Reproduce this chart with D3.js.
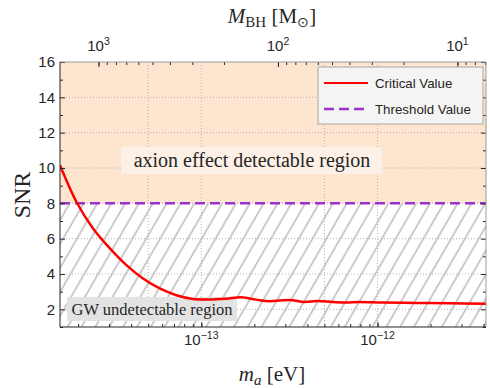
<!DOCTYPE html>
<html>
<head>
<meta charset="utf-8">
<script src="https://cdn.jsdelivr.net/npm/d3@7"></script>
<style>
  body { margin: 0; background: #fff; }
  text { fill: #262626; }
</style>
</head>
<body>
<script>
// Setup variables
const width = 490;
const height = 388;
const xStart = 60;
const xEnd = 486;
const yTop = 62;
const yBottom = 327;
const sans = "'Liberation Sans', Arial, sans-serif";
const serif = "'Liberation Serif', 'Times New Roman', serif";

// Data
const axionMass = [1.578e-14, 1.96e-14, 2.43e-14, 3.03e-14, 3.76e-14, 4.67e-14, 5.81e-14, 7.21e-14,
  8.96e-14, 1.114e-13, 1.386e-13, 1.683e-13, 2.047e-13, 2.436e-13, 3.16e-13, 3.85e-13, 4.56e-13,
  5.54e-13, 6.65e-13, 7.87e-13, 1.064e-12, 1.656e-12, 2.55e-12, 4.13e-12];
const snrCritical = [10.15, 8.06, 6.58, 5.45, 4.5, 3.74, 3.18, 2.8,
  2.59, 2.55, 2.6, 2.68, 2.55, 2.46, 2.53, 2.42, 2.47, 2.42,
  2.38, 2.41, 2.38, 2.36, 2.34, 2.32];
const snrThreshold = 8;
const massDomain = [1.578e-14, 4.13e-12];   // m_a [eV]
const mbhDomain = [1639, 6.93];             // M_BH [Msun]
const snrDomain = [1, 16];
const yMajor = [2, 4, 6, 8, 10, 12, 14, 16];
const yMinor = [1, 3, 5, 7, 9, 11, 13, 15];
const xMajor = [1e-13, 1e-12];
const xMajorLabels = ["\u221213", "\u221212"];
const topMajor = [1000, 100, 10];
const topMajorLabels = ["3", "2", "1"];
const xGrid = [5e-14, 1e-13, 5e-13, 1e-12];
const yGrid = [2, 4, 6, 8, 10, 12, 14];
const legendItems = ["Critical Value", "Threshold Value"];

// minor ticks for log axes (2..9 x 10^n inside the domain)
const logMinors = (lo, hi) => {
  const out = [];
  for (let e = Math.floor(Math.log10(lo)); e <= Math.ceil(Math.log10(hi)); e++) {
    for (let k = 1; k <= 9; k++) {
      const v = k * Math.pow(10, e);
      if (v >= lo && v <= hi) out.push(v);
    }
  }
  return out;
};

// Create the svg
const svg = d3.select("body")
  .append("svg")
  .attr("width", width)
  .attr("height", height);

// Scales
const x = d3.scaleLog().domain(massDomain).range([xStart, xEnd]);
const xTop = d3.scaleLog().domain(mbhDomain).range([xStart, xEnd]);
const y = d3.scaleLinear().domain(snrDomain).range([yBottom, yTop]);

// hatch pattern for the undetectable zone
const defs = svg.append("defs");
const pat = defs.append("pattern")
  .attr("id", "hatch")
  .attr("patternUnits", "userSpaceOnUse")
  .attr("width", 12)
  .attr("height", 12)
  .attr("patternTransform", "rotate(30)");
pat.append("line")
  .attr("x1", 6).attr("x2", 6)
  .attr("y1", 0).attr("y2", 12)
  .attr("stroke", "#8c8c8c")
  .attr("stroke-width", 0.9);

defs.append("clipPath").attr("id", "plotClip")
  .append("rect")
  .attr("x", xStart).attr("y", yTop)
  .attr("width", xEnd - xStart).attr("height", yBottom - yTop);

// Background regions
svg.append("rect")
  .attr("x", xStart).attr("y", y(snrDomain[1]))
  .attr("width", xEnd - xStart)
  .attr("height", y(snrThreshold) - y(snrDomain[1]))
  .attr("fill", "#fde5cf");
svg.append("rect")
  .attr("x", xStart).attr("y", y(snrThreshold))
  .attr("width", xEnd - xStart)
  .attr("height", y(snrDomain[0]) - y(snrThreshold))
  .attr("fill", "url(#hatch)");

// Grid lines (dotted)
const grid = svg.append("g").attr("stroke", "#b4b4b4").attr("stroke-dasharray", "1,2");
grid.selectAll(".gx").data(xGrid).join("line")
  .attr("x1", d => x(d)).attr("x2", d => x(d))
  .attr("y1", yTop).attr("y2", yBottom);
grid.selectAll(".gy").data(yGrid).join("line")
  .attr("x1", xStart).attr("x2", xEnd)
  .attr("y1", d => y(d)).attr("y2", d => y(d));

// Region text boxes
const axionBox = svg.append("g");
axionBox.append("rect")
  .attr("x", 121).attr("y", 147).attr("width", 261).attr("height", 27)
  .attr("fill", "#fdf1e7");
axionBox.append("text")
  .attr("x", 252).attr("y", 167)
  .attr("text-anchor", "middle")
  .style("font-family", serif)
  .style("font-size", "20px")
  .text("axion effect detectable region");

const gwBox = svg.append("g");
gwBox.append("rect")
  .attr("x", 67).attr("y", 297).attr("width", 170).attr("height", 24)
  .attr("fill", "#e3e3e3");
gwBox.append("text")
  .attr("x", 152).attr("y", 315)
  .attr("text-anchor", "middle")
  .style("font-family", serif)
  .style("font-size", "16.5px")
  .text("GW undetectable region");

// Threshold line
svg.append("line")
  .attr("x1", xStart).attr("x2", xEnd)
  .attr("y1", y(snrThreshold)).attr("y2", y(snrThreshold))
  .attr("stroke", "#9933cc")
  .attr("stroke-width", 2.5)
  .attr("stroke-dasharray", "10,5");

// Critical value curve
const line = d3.line()
  .x((d, i) => x(axionMass[i]))
  .y(d => y(d))
  .curve(d3.curveCatmullRom);
svg.append("path")
  .datum(snrCritical)
  .attr("clip-path", "url(#plotClip)")
  .attr("d", line)
  .attr("fill", "none")
  .attr("stroke", "#ff0000")
  .attr("stroke-width", 2.5);

// Axes (ticks pointing inward)
const tickStyle = (g, color) => {
  g.select(".domain").remove();
  g.selectAll(".tick line").attr("stroke", color);
};

svg.append("g")
  .attr("transform", `translate(0,${yBottom})`)
  .call(d3.axisBottom(x).tickValues(logMinors(...massDomain)).tickSize(-3).tickFormat(""))
  .call(g => tickStyle(g, "#262626"));
svg.append("g")
  .attr("transform", `translate(0,${yBottom})`)
  .call(d3.axisBottom(x).tickValues(xMajor).tickSize(-5).tickFormat(""))
  .call(g => tickStyle(g, "#262626"));

svg.append("g")
  .attr("transform", `translate(0,${yTop})`)
  .call(d3.axisTop(xTop).tickValues(logMinors(mbhDomain[1], mbhDomain[0])).tickSize(-3).tickFormat(""))
  .call(g => tickStyle(g, "#262626"));
svg.append("g")
  .attr("transform", `translate(0,${yTop})`)
  .call(d3.axisTop(xTop).tickValues(topMajor).tickSize(-5).tickFormat(""))
  .call(g => tickStyle(g, "#262626"));

[[d3.axisLeft, xStart], [d3.axisRight, xEnd]].forEach(([axis, pos]) => {
  svg.append("g")
    .attr("transform", `translate(${pos},0)`)
    .call(axis(y).tickValues(yMajor).tickSize(-5).tickFormat(""))
    .call(g => tickStyle(g, "#262626"));
  svg.append("g")
    .attr("transform", `translate(${pos},0)`)
    .call(axis(y).tickValues(yMinor).tickSize(-3).tickFormat(""))
    .call(g => tickStyle(g, "#262626"));
});

// Frame
svg.append("path")
  .attr("d", `M${xStart},${yTop}H${xEnd}V${yBottom}`)
  .attr("fill", "none").attr("stroke", "#999");
svg.append("path")
  .attr("d", `M${xStart},${yTop}V${yBottom}H${xEnd}`)
  .attr("fill", "none").attr("stroke", "#262626");

// Tick labels
svg.append("g").selectAll("text").data(yMajor).join("text")
  .attr("x", xStart - 5)
  .attr("y", d => y(d))
  .attr("dy", "0.36em")
  .attr("text-anchor", "end")
  .style("font-family", sans)
  .style("font-size", "15px")
  .text(d => d);

const powerLabel = (sel, yPos) => {
  sel.attr("y", yPos)
    .attr("text-anchor", "middle")
    .style("font-family", sans)
    .style("font-size", "15px");
  sel.append("tspan").text("10");
  sel.append("tspan")
    .attr("dy", -6)
    .style("font-size", "10.5px")
    .text(d => d.label);
};

svg.append("g").selectAll("text")
  .data(xMajor.map((v, i) => ({ v, label: xMajorLabels[i] })))
  .join("text")
  .attr("x", d => x(d.v))
  .call(powerLabel, 345);

svg.append("g").selectAll("text")
  .data(topMajor.map((v, i) => ({ v, label: topMajorLabels[i] })))
  .join("text")
  .attr("x", d => xTop(d.v))
  .call(powerLabel, 51);

// Axis titles
const xTitle = svg.append("text")
  .attr("x", 272).attr("y", 381)
  .attr("text-anchor", "middle")
  .style("font-family", serif)
  .style("font-size", "21px");
xTitle.append("tspan").style("font-style", "italic").text("m");
xTitle.append("tspan").attr("dy", 4).style("font-style", "italic").style("font-size", "15px").text("a");
xTitle.append("tspan").attr("dy", -4).text(" [eV]");

const topTitle = svg.append("text")
  .attr("x", 272).attr("y", 23)
  .attr("text-anchor", "middle")
  .style("font-family", serif)
  .style("font-size", "21px");
topTitle.append("tspan").style("font-style", "italic").text("M");
topTitle.append("tspan").attr("dy", 4).style("font-size", "15px").text("BH");
topTitle.append("tspan").attr("dy", -4).text(" [M");
topTitle.append("tspan").attr("dy", 4).style("font-size", "14px").text("\u2299");
topTitle.append("tspan").attr("dy", -4).text("]");

svg.append("text")
  .attr("transform", `translate(30,195) rotate(-90)`)
  .attr("text-anchor", "middle")
  .style("font-family", serif)
  .style("font-size", "24px")
  .text("SNR");

// Legend
const legend = svg.append("g").attr("transform", "translate(318,67)");
legend.append("rect")
  .attr("width", 165).attr("height", 57)
  .attr("fill", "#f4f4f4")
  .attr("stroke", "#a8a8a8");
legend.selectAll("line").data(legendItems).join("line")
  .attr("x1", 6).attr("x2", 50)
  .attr("y1", (d, i) => 16 + i * 26).attr("y2", (d, i) => 16 + i * 26)
  .attr("stroke", (d, i) => i === 0 ? "#ff0000" : "#9933cc")
  .attr("stroke-width", (d, i) => i === 0 ? 1.8 : 2.5)
  .attr("stroke-dasharray", (d, i) => i === 0 ? null : "10,5");
legend.selectAll("text").data(legendItems).join("text")
  .attr("x", 57)
  .attr("y", (d, i) => 16 + i * 26)
  .attr("dy", "0.35em")
  .style("font-family", sans)
  .style("font-size", "13.3px")
  .text(d => d);
</script>
</body>
</html>
